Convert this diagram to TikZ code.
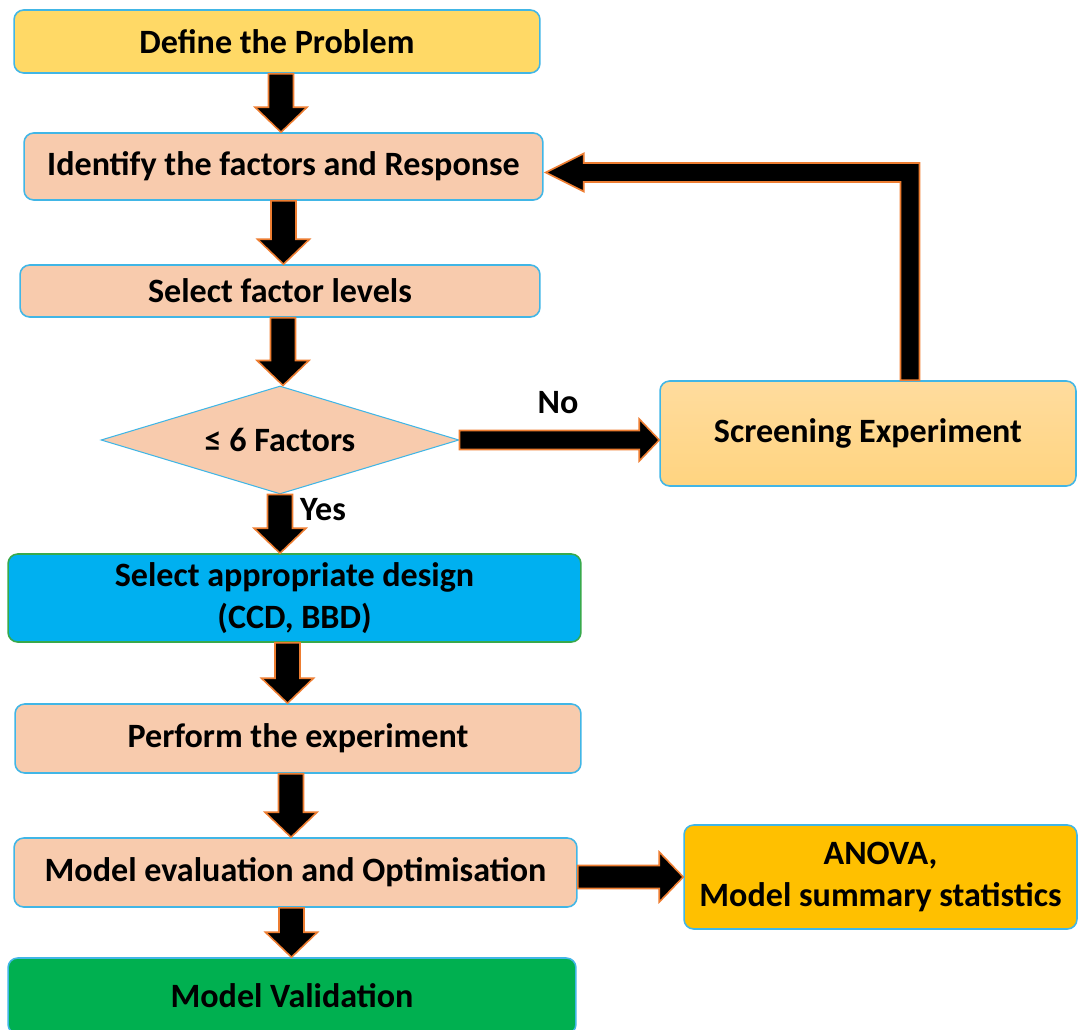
\documentclass[tikz,border=0pt]{standalone}
\usepackage{fontspec}
\setmainfont{Carlito}
\usetikzlibrary{calc,shapes.geometric}

\definecolor{boxblue}{HTML}{41B6E6}
\definecolor{peach}{HTML}{F8CBAD}
\definecolor{gold}{HTML}{FFD966}
\definecolor{skyblue}{HTML}{00B0F0}
\definecolor{okgreen}{HTML}{00B050}
\definecolor{amber}{HTML}{FFC000}
\definecolor{scrtop}{HTML}{FFDC9E}
\definecolor{scrbot}{HTML}{FFD480}
\definecolor{arrowline}{HTML}{ED7D31}
\definecolor{greenline}{HTML}{38A94C}

\tikzset{
  stepbox/.style={draw=boxblue, line width=0.9pt, rounded corners=5.5pt, fill=peach,
    font=\bfseries\fontsize{19.4}{23.8}\selectfont, align=center, inner sep=0pt},
  lbl/.style={font=\bfseries\fontsize{19.4}{23}\selectfont},
  arrowbody/.style={fill=black, draw=arrowline, line width=0.9pt, line join=miter}
}

% block arrow: from, to, half shaft, half head, head length
\newcommand{\blockarrow}[5]{%
  \coordinate (ba) at (#1);
  \coordinate (bb) at (#2);
  \coordinate (bh) at ($(bb)!#5!(ba)$);
  \draw[arrowbody] ($(ba)!#3!90:(bb)$) -- ($(bh)!#3!90:(bb)$) -- ($(bh)!#4!90:(bb)$)
    -- (bb) -- ($(bh)!#4!-90:(bb)$) -- ($(bh)!#3!-90:(bb)$) -- ($(ba)!#3!-90:(bb)$) -- cycle;
}

\begin{document}
\begin{tikzpicture}[x=0.02cm, y=-0.02cm]
  \useasboundingbox (0,0) rectangle (1078,1030);

  \node[stepbox, fill=gold, minimum width=10.52cm, minimum height=1.26cm] (define) at (277,41.5) {Define the Problem};
  \node[stepbox, minimum width=10.38cm, minimum height=1.34cm] (identify) at (283.5,166.5) {Identify the factors and Response};
  \node[stepbox, minimum width=10.4cm, minimum height=1.04cm] (levels) at (280,291) {Select factor levels};
  \node[stepbox, diamond, aspect=3.3, rounded corners=0pt, line width=0.6pt, minimum width=7.16cm, minimum height=2.16cm] (factors) at (280,440) {≤ 6 Factors};
  \node[stepbox, fill=none, top color=scrtop, bottom color=scrbot, minimum width=8.32cm, minimum height=2.1cm] (screening) at (868,433.5) {Screening Experiment};
  \node[stepbox, fill=skyblue, draw=greenline, minimum width=11.46cm, minimum height=1.76cm] (design) at (294.5,598) {Select appropriate design\\(CCD, BBD)};
  \node[stepbox, minimum width=11.32cm, minimum height=1.38cm] (perform) at (298,738.5) {Perform the experiment};
  \node[stepbox, minimum width=11.26cm, minimum height=1.38cm] (evaluate) at (295.5,872.5) {Model evaluation and Optimisation};
  \node[stepbox, fill=amber, minimum width=7.86cm, minimum height=2.08cm] (anova) at (880.5,877) {ANOVA,\\Model summary statistics};
  \node[stepbox, fill=okgreen, minimum width=11.36cm, minimum height=1.52cm] (validate) at (292,996) {Model Validation};

  \node[lbl] (nolabel) at (558,403) {No};
  \node[lbl] (yeslabel) at (323,510) {Yes};

  % main flow
  \blockarrow{$(define.south)+(4,0)$}{ba |- identify.north}{0.25cm}{0.52cm}{0.5cm}
  \blockarrow{identify.south}{identify.south |- levels.north}{0.25cm}{0.52cm}{0.5cm}
  \blockarrow{$(levels.south)+(3,0)$}{ba |- factors.north}{0.25cm}{0.52cm}{0.5cm}
  \blockarrow{factors.south}{factors.south |- design.north}{0.25cm}{0.52cm}{0.5cm}
  \blockarrow{$(design.south)+(-7,0)$}{ba |- perform.north}{0.25cm}{0.52cm}{0.5cm}
  \blockarrow{$(perform.south)+(-7,0)$}{ba |- evaluate.north}{0.25cm}{0.52cm}{0.5cm}
  \blockarrow{$(evaluate.south)+(-4,0)$}{ba |- validate.north}{0.25cm}{0.52cm}{0.5cm}

  % side branches
  \blockarrow{factors.east}{factors.east -| screening.west}{0.19cm}{0.42cm}{0.4cm}
  \blockarrow{evaluate.east |- anova.west}{anova.west}{0.23cm}{0.5cm}{0.48cm}

  % feedback from screening
  \coordinate (fbstart) at ($(screening.north)+(42,0)$);
  \coordinate (fbend) at ($(identify.east)+(2,6)$);
  \coordinate (fbturn) at (fbstart |- fbend);
  \draw[arrowbody] ($(fbstart)+(-9.5,0)$) -- ($(fbturn)+(-9.5,9.5)$) -- ($(fbend)+(38,9.5)$)
    -- ($(fbend)+(38,19)$) -- (fbend) -- ($(fbend)+(38,-19)$) -- ($(fbend)+(38,-9.5)$)
    -- ($(fbturn)+(9.5,-9.5)$) -- ($(fbstart)+(9.5,0)$) -- cycle;
\end{tikzpicture}
\end{document}
